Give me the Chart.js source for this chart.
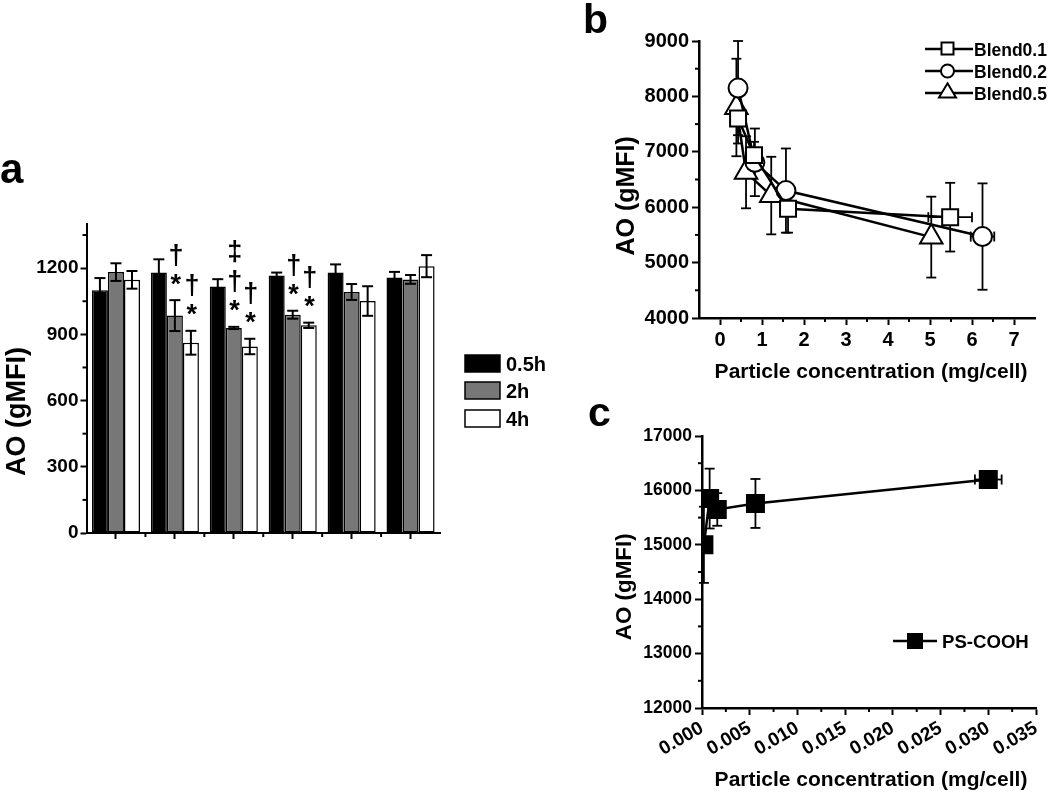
<!DOCTYPE html>
<html><head><meta charset="utf-8">
<script src="https://cdn.jsdelivr.net/npm/chart.js@4.4.1/dist/chart.umd.min.js"></script>
<style>
html,body{margin:0;padding:0;background:#fff;}
canvas{position:absolute;left:0;top:0;}
</style>
</head><body>
<canvas id="ca" width="1050" height="794"></canvas>
<canvas id="cb" width="1050" height="794"></canvas>
<canvas id="cc" width="1050" height="794"></canvas>
<script>
// ---------------- DATA ----------------
// Panel a
const groupsA = ['Group 1', 'Group 2', 'Group 3', 'Group 4', 'Group 5', 'Group 6'];
const seriesA = ['0.5h', '2h', '4h'];
const aoA_05h = [1100, 1180, 1117, 1167, 1180, 1158];
const errA_05h = [55, 60, 33, 13, 37, 25];
const aoA_2h = [1182, 985, 929, 989, 1092, 1149];
const errA_2h = [40, 70, 5, 18, 36, 20];
const aoA_4h = [1147, 862, 845, 941, 1051, 1209];
const errA_4h = [40, 54, 35, 12, 67, 50];
const sigA_05h = [[], [], [], [], [], []];
const sigA_2h = [[], ['*', '†'], ['*', '†', '‡'], ['*', '†'], [], []];
const sigA_4h = [[], ['*', '†'], ['*', '†'], ['*', '†'], [], []];
const yTicksA = [0, 300, 600, 900, 1200];
const yMinorA = [150, 450, 750, 1050, 1350];

// Panel b
const seriesB = ['Blend0.1', 'Blend0.2', 'Blend0.5'];
const concB_01 = [0.43, 0.81, 1.62, 5.48];
const aoB_01 = [7600, 6940, 5970, 5820];
const errB_01 = [450, 240, 430, 620];
const xerrB_01 = [0, 0, 0, 0.52];
const concB_02 = [0.43, 0.83, 1.57, 6.25];
const aoB_02 = [8150, 6810, 6300, 5470];
const errB_02 = [850, 610, 760, 960];
const xerrB_02 = [0, 0, 0, 0.28];
const concB_05 = [0.39, 0.62, 1.22, 5.03];
const aoB_05 = [7800, 6630, 6210, 5460];
const errB_05 = [880, 650, 700, 730];
const xerrB_05 = [0, 0, 0, 0];
const yTicksB = [4000, 5000, 6000, 7000, 8000, 9000];
const yMinorB = [4500, 5500, 6500, 7500, 8500];
const xTicksB = [0, 1, 2, 3, 4, 5, 6, 7];
const xMinorB = [0.5, 1.5, 2.5, 3.5, 4.5, 5.5, 6.5];

// Panel c
const seriesC = ['PS-COOH'];
const concC = [0.0002, 0.0008, 0.0016, 0.0056, 0.0300];
const aoC = [15000, 15850, 15650, 15760, 16200];
const errC = [700, 550, 300, 450, 80];
const xerrC = [0, 0, 0, 0, 0.0014];
const yTicksC = [12000, 13000, 14000, 15000, 16000, 17000];
const yMinorC = [12500, 13500, 14500, 15500, 16500];
const xTicksC = [0.000, 0.005, 0.010, 0.015, 0.020, 0.025, 0.030, 0.035];
const xMinorC = [0.0025, 0.0075, 0.0125, 0.0175, 0.0225, 0.0275, 0.0325];

// ---------------- HELPERS ----------------
const F = '"Liberation Sans", Arial, Helvetica, sans-serif';
const bold = s => `bold ${s}px ${F}`;

function inkText(ctx, text, size, x, y, h, v, rot) {
  ctx.save();
  ctx.translate(x, y);
  if (rot) ctx.rotate(rot);
  ctx.font = bold(size);
  ctx.fillStyle = '#000';
  ctx.textAlign = 'left';
  ctx.textBaseline = 'alphabetic';
  const m = ctx.measureText(text);
  const L = -m.actualBoundingBoxLeft, R = m.actualBoundingBoxRight;
  const T = -m.actualBoundingBoxAscent, B = m.actualBoundingBoxDescent;
  const dx = h === 'center' ? -(L + R) / 2 : h === 'left' ? -L : -R;
  const dy = v === 'center' ? -(T + B) / 2 : v === 'bottom' ? -B : -T;
  ctx.fillText(text, dx, dy);
  ctx.restore();
}
function seg(ctx, x1, y1, x2, y2) { ctx.beginPath(); ctx.moveTo(x1, y1); ctx.lineTo(x2, y2); ctx.stroke(); }
function minorTicks(ctx, scale, values, len, vertical) {
  ctx.save(); ctx.strokeStyle = '#000'; ctx.lineWidth = 2;
  values.forEach(v => {
    const p = scale.getPixelForValue(v);
    if (vertical) seg(ctx, scale.right, p, scale.right - len, p);
    else seg(ctx, p, scale.top, p, scale.top + len);
  });
  ctx.restore();
}
function errBar(ctx, xs, ys, x, y, ex, ey, cap) {
  const px = xs.getPixelForValue(x), py = ys.getPixelForValue(y);
  if (ey) {
    const t = ys.getPixelForValue(y + ey), b = ys.getPixelForValue(y - ey);
    seg(ctx, px, t, px, b); seg(ctx, px - cap, t, px + cap, t); seg(ctx, px - cap, b, px + cap, b);
  }
  if (ex) {
    const l = xs.getPixelForValue(x - ex), r = xs.getPixelForValue(x + ex);
    seg(ctx, l, py, r, py); seg(ctx, l, py - cap, l, py + cap); seg(ctx, r, py - cap, r, py + cap);
  }
}
function marker(ctx, style, x, y, s, fill) {
  ctx.save(); ctx.fillStyle = fill; ctx.strokeStyle = '#000'; ctx.lineWidth = 2;
  ctx.beginPath();
  if (style === 'rect') ctx.rect(x - s / 2, y - s / 2, s, s);
  else if (style === 'circle') ctx.arc(x, y, s / 2, 0, Math.PI * 2);
  else { ctx.moveTo(x, y - s * 0.45); ctx.lineTo(x + s / 2, y + s * 0.38); ctx.lineTo(x - s / 2, y + s * 0.38); ctx.closePath(); }
  ctx.fill(); ctx.stroke(); ctx.restore();
}
const axisGrid = (w) => ({ display: true, drawOnChartArea: false, drawTicks: true, tickLength: 7, tickColor: '#000', tickWidth: w, color: '#000' });
const axisBorder = (w) => ({ display: true, color: '#000', width: w });
const numFmt = v => String(v);

// ---------------- PANEL A ----------------
const panelA = {
  id: 'panelA',
  afterDatasetsDraw(chart) {
    const ctx = chart.ctx, ys = chart.scales.y;
    ctx.save(); ctx.strokeStyle = '#000'; ctx.lineWidth = 2;
    chart.data.datasets.forEach((ds, di) => {
      chart.getDatasetMeta(di).data.forEach((bar, i) => {
        const v = ds.data[i], e = ds.err[i];
        const t = ys.getPixelForValue(v + e), b = ys.getPixelForValue(v - e);
        seg(ctx, bar.x, t, bar.x, b);
        seg(ctx, bar.x - 5.5, t, bar.x + 5.5, t);
        seg(ctx, bar.x - 5.5, b, bar.x + 5.5, b);
      });
    });
    ctx.restore();
  },
  afterDraw(chart) {
    const ctx = chart.ctx, xs = chart.scales.x, ys = chart.scales.y;
    minorTicks(ctx, ys, yMinorA, 4, true);
    ctx.save(); ctx.strokeStyle = '#000'; ctx.lineWidth = 2;
    for (let i = 0; i < groupsA.length - 1; i++) {
      const p = (xs.getPixelForValue(i) + xs.getPixelForValue(i + 1)) / 2;
      seg(ctx, p, xs.top, p, xs.top + 4);
    }
    ctx.restore();
    // significance marks
    chart.data.datasets.forEach((ds, di) => {
      chart.getDatasetMeta(di).data.forEach((bar, i) => {
        const marks = ds.sig[i];
        let yc = ys.getPixelForValue(ds.data[i] + ds.err[i]);
        marks.forEach((m, k) => {
          yc -= (k === 0 ? 21 : (m === '‡' ? 30 : 24));
          inkText(ctx, m, 27, bar.x + 1, yc, 'center', 'center');
        });
      });
    });
    // legend
    const rows = [355, 382, 410];
    chart.data.datasets.forEach((ds, di) => {
      ctx.save(); ctx.fillStyle = ds.backgroundColor; ctx.strokeStyle = '#000'; ctx.lineWidth = 1.5;
      ctx.fillRect(465, rows[di], 35, 17); ctx.strokeRect(465, rows[di], 35, 17); ctx.restore();
      inkText(ctx, ds.label, 20, 506, rows[di] + 8.5, 'left', 'center');
    });
    // titles
    inkText(ctx, 'AO (gMFI)', 27, 18, 412, 'center', 'center', -Math.PI / 2);
    inkText(ctx, 'a', 42, 1, 183, 'left', 'bottom');
  }
};

new Chart(document.getElementById('ca'), {
  type: 'bar',
  data: {
    labels: groupsA,
    datasets: [
      { label: seriesA[0], data: aoA_05h, err: errA_05h, sig: sigA_05h, backgroundColor: '#000' },
      { label: seriesA[1], data: aoA_2h, err: errA_2h, sig: sigA_2h, backgroundColor: '#777777' },
      { label: seriesA[2], data: aoA_4h, err: errA_4h, sig: sigA_4h, backgroundColor: '#ffffff' }
    ]
  },
  options: {
    responsive: false, animation: false, devicePixelRatio: 1, events: [],
    layout: { padding: { left: 0, top: 224, right: 610, bottom: 794 - 533 - 12 } },
    datasets: { bar: { categoryPercentage: 0.816, barPercentage: 1, borderColor: '#000', borderWidth: 1.5, borderSkipped: false } },
    plugins: { legend: { display: false }, tooltip: { enabled: false } },
    scales: {
      x: {
        offset: true,
        grid: Object.assign(axisGrid(2), { offset: false, tickLength: 6 }),
        border: axisBorder(2),
        ticks: { display: false },
        afterFit: s => { s.height = 12; }
      },
      y: {
        min: 0, max: 1400,
        afterBuildTicks: s => { s.ticks = yTicksA.map(v => ({ value: v })); },
        grid: Object.assign(axisGrid(2), { tickLength: 6 }),
        border: axisBorder(2),
        ticks: { font: { family: F, size: 19, weight: 'bold' }, color: '#000', padding: 2, callback: numFmt },
        afterFit: s => { s.width = 86.5; }
      }
    }
  },
  plugins: [panelA]
});

// ---------------- PANEL B ----------------
const panelB = {
  id: 'panelB',
  beforeDatasetsDraw(chart) {
    const ctx = chart.ctx, xs = chart.scales.x, ys = chart.scales.y;
    ctx.save(); ctx.strokeStyle = '#000'; ctx.lineWidth = 1.8;
    chart.data.datasets.forEach(ds => {
      ds.data.forEach((p, i) => errBar(ctx, xs, ys, p.x, p.y, ds.xerr[i], ds.err[i], 5));
    });
    ctx.restore();
  },
  afterDraw(chart) {
    const ctx = chart.ctx, xs = chart.scales.x, ys = chart.scales.y;
    minorTicks(ctx, ys, yMinorB, 4, true);
    minorTicks(ctx, xs, xMinorB, 4, false);
    const rows = [49, 71, 93];
    const mk = [[ 'rect', 12, 48.5 ], [ 'circle', 13, 71 ], [ 'tri', 17, 91 ]];
    chart.data.datasets.forEach((ds, di) => {
      ctx.save(); ctx.strokeStyle = '#000'; ctx.lineWidth = 2.5;
      seg(ctx, 925, rows[di], 973, rows[di]); ctx.restore();
      marker(ctx, mk[di][0], 947.5, mk[di][2], mk[di][1], '#fff');
      inkText(ctx, ds.label, 17.5, 975, rows[di], 'left', 'center');
    });
    inkText(ctx, 'AO (gMFI)', 25, 627, 196, 'center', 'center', -Math.PI / 2);
    inkText(ctx, 'Particle concentration (mg/cell)', 21, 871, 372, 'center', 'center');
    inkText(ctx, 'b', 41, 585, 33, 'left', 'bottom');
  }
};

const lineDs = (label, xs, ys, err, xerr, style, r) => ({
  label, data: xs.map((x, i) => ({ x, y: ys[i] })), err, xerr,
  showLine: true, tension: 0, borderColor: '#000', borderWidth: 2.5,
  pointStyle: style, pointRadius: r, pointBackgroundColor: '#fff', pointBorderColor: '#000', pointBorderWidth: 2
});

new Chart(document.getElementById('cb'), {
  type: 'scatter',
  data: {
    datasets: [
      lineDs(seriesB[0], concB_01, aoB_01, errB_01, xerrB_01, 'rect', 11.3),
      lineDs(seriesB[1], concB_02, aoB_02, errB_02, xerrB_02, 'circle', 9.5),
      lineDs(seriesB[2], concB_05, aoB_05, errB_05, xerrB_05, 'triangle', 13)
    ]
  },
  options: {
    responsive: false, animation: false, devicePixelRatio: 1, events: [],
    layout: { padding: { left: 0, top: 41, right: 7, bottom: 794 - 318 - 30 } },
    plugins: { legend: { display: false }, tooltip: { enabled: false } },
    scales: {
      x: {
        type: 'linear', min: -0.5, max: 7.5,
        afterBuildTicks: s => { s.ticks = xTicksB.map(v => ({ value: v })); },
        grid: axisGrid(2), border: axisBorder(2.5),
        ticks: { font: { family: F, size: 20, weight: 'bold' }, color: '#000', padding: 3, maxRotation: 0, autoSkip: false, callback: numFmt },
        afterFit: s => { s.height = 30; }
      },
      y: {
        min: 4000, max: 9000,
        afterBuildTicks: s => { s.ticks = yTicksB.map(v => ({ value: v })); },
        grid: axisGrid(2), border: axisBorder(2.5),
        ticks: { font: { family: F, size: 20, weight: 'bold' }, color: '#000', padding: 3, autoSkip: false, callback: numFmt },
        afterFit: s => { s.width = 699; }
      }
    }
  },
  plugins: [panelB]
});

// ---------------- PANEL C ----------------
const panelC = {
  id: 'panelC',
  beforeDatasetsDraw(chart) {
    const ctx = chart.ctx, xs = chart.scales.x, ys = chart.scales.y;
    ctx.save(); ctx.strokeStyle = '#000'; ctx.lineWidth = 1.8;
    chart.data.datasets.forEach(ds => {
      ds.data.forEach((p, i) => errBar(ctx, xs, ys, p.x, p.y, ds.xerr[i], ds.err[i], 5));
    });
    ctx.restore();
  },
  afterDraw(chart) {
    const ctx = chart.ctx, xs = chart.scales.x, ys = chart.scales.y;
    minorTicks(ctx, ys, yMinorC, 4, true);
    minorTicks(ctx, xs, xMinorC, 4, false);
    ctx.save(); ctx.strokeStyle = '#000'; ctx.lineWidth = 2.5;
    seg(ctx, 893, 641, 937, 641); ctx.restore();
    marker(ctx, 'rect', 915, 641, 14, '#000');
    inkText(ctx, chart.data.datasets[0].label, 18.6, 943, 641, 'left', 'center');
    inkText(ctx, 'AO (gMFI)', 22.4, 625, 587, 'center', 'center', -Math.PI / 2);
    inkText(ctx, 'Particle concentration (mg/cell)', 21, 871, 780, 'center', 'center');
    inkText(ctx, 'c', 41, 589, 426, 'left', 'bottom');
  }
};

new Chart(document.getElementById('cc'), {
  type: 'scatter',
  data: {
    datasets: [
      Object.assign(lineDs(seriesC[0], concC, aoC, errC, xerrC, 'rect', 12), { pointBackgroundColor: '#000' })
    ]
  },
  options: {
    responsive: false, animation: false, devicePixelRatio: 1, events: [],
    layout: { padding: { left: 0, top: 436, right: 9, bottom: 794 - 708 - 55 } },
    plugins: { legend: { display: false }, tooltip: { enabled: false } },
    scales: {
      x: {
        type: 'linear', min: 0, max: 0.035,
        afterBuildTicks: s => { s.ticks = xTicksC.map(v => ({ value: v })); },
        grid: axisGrid(2), border: axisBorder(2.5),
        ticks: { font: { family: F, size: 19, weight: 'bold' }, color: '#000', padding: 2, minRotation: 30, maxRotation: 30, autoSkip: false, callback: v => Number(v).toFixed(3) },
        afterFit: s => { s.height = 55; }
      },
      y: {
        min: 12000, max: 17000,
        afterBuildTicks: s => { s.ticks = yTicksC.map(v => ({ value: v })); },
        grid: axisGrid(2), border: axisBorder(2.5),
        ticks: { font: { family: F, size: 17.5, weight: 'bold' }, color: '#000', padding: 3, autoSkip: false, callback: numFmt },
        afterFit: s => { s.width = 702; }
      }
    }
  },
  plugins: [panelC]
});
</script>
</body></html>
